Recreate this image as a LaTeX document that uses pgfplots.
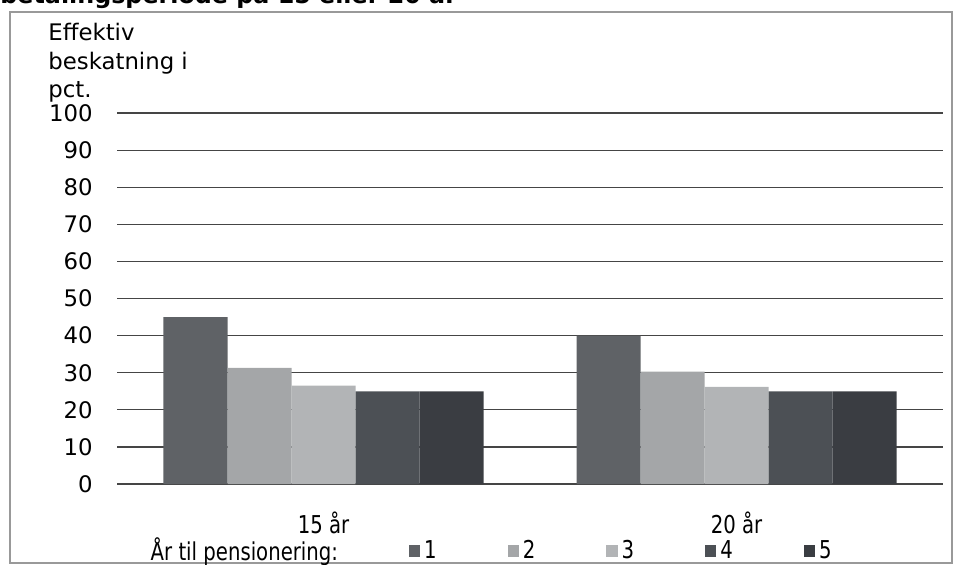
\documentclass[border=0pt]{standalone}
\usepackage{pgfplots}
\pgfplotsset{compat=1.18}
\usepackage{fontspec}
\setmainfont{DejaVu Sans}
\newfontfamily\narrowfont[FakeStretch=0.8]{DejaVu Sans}
\definecolor{cA}{HTML}{5F6266}
\definecolor{cB}{HTML}{A4A6A8}
\definecolor{cC}{HTML}{B2B4B6}
\definecolor{cD}{HTML}{4C5055}
\definecolor{cE}{HTML}{3A3D42}
\definecolor{gridc}{HTML}{454545}
\begin{document}
\begin{tikzpicture}[x=1pt,y=1pt]
\useasboundingbox (0,0) rectangle (477,282);
\draw[black!40, line width=0.6pt] (5,0.5) rectangle (476,276);
\node[anchor=base west, inner sep=0, font=\fontsize{11.9}{14}\selectfont\bfseries] at (0,280) {betalingsperiode på 15 eller 20 år};
\begin{axis}[
  at={(58.5pt,40pt)}, anchor=south west,
  scale only axis, width=413pt, height=185.5pt,
  xmin=-0.5, xmax=1.5, ymin=0, ymax=100,
  ybar=0pt, bar width=32pt,
  xtick={0,1}, xticklabels={15 år, 20 år},
  xtick style={draw=none},
  xticklabel style={font=\narrowfont\fontsize{12.3}{14}\selectfont, yshift=-6pt},
  extra x ticks={-0.5,0.5,1.5}, extra x tick labels={},
  extra x tick style={tick align=outside, major tick length=3.5pt, xmajorgrids=false,
     tick style={draw=gridc, line width=0.7pt}},
  ytick={0,10,...,100}, ytick style={draw=none},
  yticklabel style={font=\fontsize{11.4}{13}\selectfont, xshift=-8.7pt},
  /pgf/number format/assume math mode=true,
  ymajorgrids, grid style={gridc, line width=0.6pt},
  axis x line*=bottom, axis y line*=left,
  y axis line style={draw=none},
  x axis line style={-, draw=gridc, line width=0.6pt},
  ylabel={Effektiv\\beskatning i\\pct.},
  ylabel style={rotate=-90, align=left, inner sep=0pt, anchor=north west,
     at={(axis description cs:-0.0835,1.2426)},
     font=\fontsize{11.4}{14.25}\selectfont},
  legend columns=6,
  legend image code/.code={\fill[#1] (0pt,-2.8pt) rectangle (5.6pt,2.8pt);},
  legend style={draw=none, fill=none, at={(axis description cs:0.453,-0.1806)}, anchor=center,
     font=\narrowfont\fontsize{12.3}{14}\selectfont,
     /tikz/every odd column/.append style={column sep=0pt},
     /tikz/every even column/.append style={column sep=33.5pt}},
]
\addlegendimage{empty legend}
\addlegendentry{År til pensionering:\hspace{8pt}}
\addplot[fill=cA, draw=none] coordinates {(0,45) (1,40)};
\addlegendentry{1}
\addplot[fill=cB, draw=none] coordinates {(0,31.3) (1,30.3)};
\addlegendentry{2}
\addplot[fill=cC, draw=none] coordinates {(0,26.5) (1,26.2)};
\addlegendentry{3}
\addplot[fill=cD, draw=none] coordinates {(0,25) (1,25)};
\addlegendentry{4}
\addplot[fill=cE, draw=none] coordinates {(0,25) (1,25)};
\addlegendentry{5}
\end{axis}
\end{tikzpicture}
\end{document}
